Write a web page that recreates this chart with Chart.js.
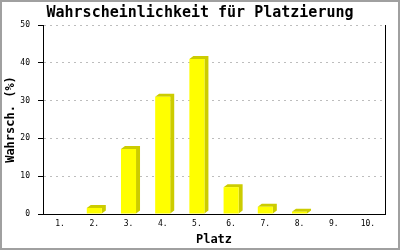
<!DOCTYPE html>
<html>
<head>
<meta charset="utf-8">
<script src="https://cdn.jsdelivr.net/npm/chart.js@4"></script>
<style>
  body { margin: 0; background: #fff; }
  canvas { display: block; }
</style>
</head>
<body>
<canvas id="myChart" width="400" height="250"></canvas>
<script>
const places = ['1.', '2.', '3.', '4.', '5.', '6.', '7.', '8.', '9.', '10.'];
const probs = [0, 1.6, 17.2, 31.0, 41.0, 7.1, 1.9, 0.6, 0, 0];
const yTicks = [0, 10, 20, 30, 40, 50];

const mono = 'DejaVu Sans Mono';

// 3D-Seiten der Balken (wie jpgraph)
const bars3d = {
    id: 'bars3d',
    beforeDatasetsDraw(chart) {
        const ctx = chart.ctx;
        const meta = chart.getDatasetMeta(0);
        const dx = 4, dy = 3;
        meta.data.forEach((bar, i) => {
            if (!probs[i]) return;
            const x0 = bar.x - bar.width / 2;
            const x1 = bar.x + bar.width / 2;
            ctx.save();
            ctx.fillStyle = '#cccc00';
            ctx.beginPath();
            ctx.moveTo(x0, bar.y);
            ctx.lineTo(x0 + dx, bar.y - dy);
            ctx.lineTo(x1 + dx, bar.y - dy);
            ctx.lineTo(x1 + dx, bar.base - dy);
            ctx.lineTo(x1, bar.base);
            ctx.lineTo(x1, bar.y);
            ctx.closePath();
            ctx.fill();
            ctx.restore();
        });
    },
    afterDraw(chart) {
        const ctx = chart.ctx;
        ctx.save();
        ctx.strokeStyle = '#a0a0a0';
        ctx.lineWidth = 2;
        ctx.strokeRect(1, 1, 398, 248);
        ctx.restore();
    }
};

new Chart(document.getElementById('myChart'), {
    type: 'bar',
    data: {
        labels: places,
        datasets: [{
            data: probs,
            backgroundColor: '#ffff00',
            borderWidth: 0,
            barPercentage: 0.88,
            categoryPercentage: 0.5,
            yAxisID: 'y'
        }]
    },
    options: {
        responsive: false,
        animation: false,
        layout: { padding: 0 },
        plugins: {
            legend: { display: false },
            tooltip: { enabled: false },
            title: {
                display: true,
                text: 'Wahrscheinlichkeit für Platzierung',
                color: '#000',
                font: { family: mono, size: 15, weight: 'bold' },
                padding: { top: 4, bottom: 3 }
            }
        },
        scales: {
            x: {
                offset: true,
                grid: { display: false, drawTicks: false },
                border: { color: '#000', width: 1 },
                ticks: {
                    color: '#000',
                    font: { family: mono, size: 8 },
                    padding: 5,
                    maxRotation: 0
                },
                title: {
                    display: true,
                    text: 'Platz',
                    color: '#000',
                    font: { family: mono, size: 12, weight: 'bold' },
                    padding: { top: 0, bottom: 3 }
                },
                afterFit: (s) => { s.height = 36; }
            },
            y: {
                min: 0,
                max: 50,
                afterBuildTicks: (s) => { s.ticks = yTicks.map(v => ({ value: v })); },
                grid: {
                    color: '#bdbdbd',
                    tickColor: '#000',
                    tickLength: 5,
                    tickBorderDash: []
                },
                border: { color: '#000', width: 1, dash: [2, 4] },
                ticks: {
                    color: '#000',
                    font: { family: mono, size: 8 },
                    padding: 8
                },
                title: {
                    display: true,
                    text: 'Wahrsch. (%)',
                    color: '#000',
                    font: { family: mono, size: 12, weight: 'bold' },
                    padding: { top: 4, bottom: 0 }
                },
                afterFit: (s) => { s.width = 43; }
            },
            y2: {
                position: 'right',
                grid: { display: false },
                ticks: { display: false },
                border: { color: '#000', width: 1 },
                afterFit: (s) => { s.width = 15; }
            }
        }
    },
    plugins: [bars3d]
});
</script>
</body>
</html>
